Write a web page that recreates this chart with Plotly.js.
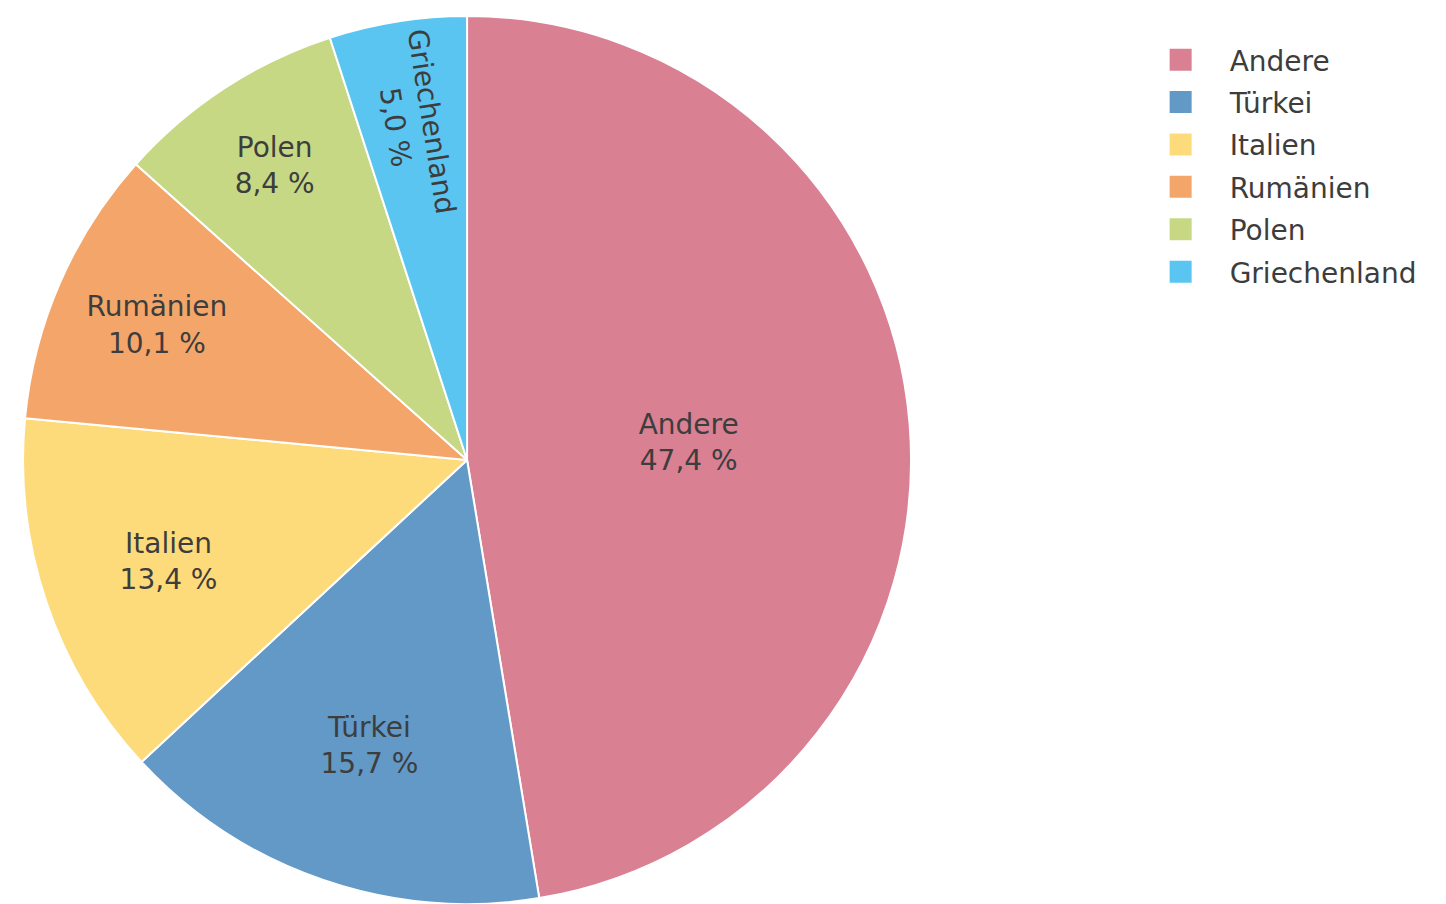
<!DOCTYPE html>
<html>
<head>
<meta charset="utf-8">
<script src="https://cdn.plot.ly/plotly-3.0.1.min.js"></script>
<style>
html,body{margin:0;padding:0;background:#fff;overflow:hidden;}
#wrap{width:1446px;height:904px;overflow:hidden;}
#chart{width:723px;height:452px;transform:scale(2);transform-origin:0 0;}
</style>
</head>
<body>
<div id="wrap"><div id="chart"></div></div>
<script>
const labels = ["Andere", "Türkei", "Italien", "Rumänien", "Polen", "Griechenland"];
const values = [47.4, 15.7, 13.4, 10.1, 8.4, 5.0];
const colors = ["#d98093", "#6399c6", "#fedb7a", "#f4a66a", "#c6d884", "#5bc5f2"];

const trace = {
  type: "pie",
  labels: labels,
  values: values,
  sort: false,
  direction: "clockwise",
  rotation: 0,
  marker: {colors: colors, line: {color: "#ffffff", width: 1}},
  texttemplate: "%{label}<br>%{value:.1f} %",
  textposition: "inside",
  insidetextorientation: "auto",
  textfont: {family: "DejaVu Sans", size: 14, color: "#3d3d3d"},
  hoverinfo: "none",
  domain: {x: [0, 0.646], y: [0, 1]}
};

const layout = {
  width: 723,
  height: 452,
  margin: {l: 0, r: 0, t: 8, b: 0},
  separators: ",.",
  paper_bgcolor: "#ffffff",
  font: {family: "DejaVu Sans", size: 14, color: "#3d3d3d"},
  showlegend: true,
  legend: {x: 0.7826, xanchor: "left", y: 0.986, yanchor: "top", itemwidth: 39,
           font: {family: "DejaVu Sans", size: 14, color: "#3d3d3d"}}
};

Plotly.newPlot("chart", [trace], layout, {displayModeBar: false, staticPlot: true});
</script>
</body>
</html>
